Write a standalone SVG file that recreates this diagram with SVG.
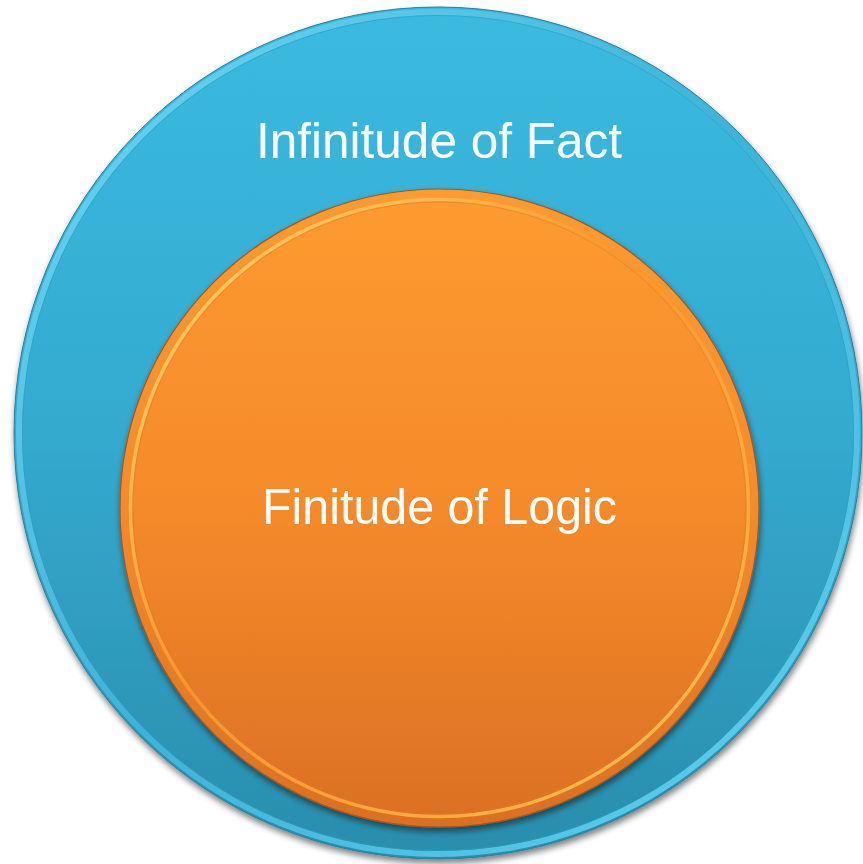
<svg xmlns="http://www.w3.org/2000/svg" width="863" height="864" viewBox="0 0 863 864">
  <defs>
    <linearGradient id="blueFill" x1="0" y1="0" x2="0" y2="1">
      <stop offset="0" stop-color="#3BBAE0"/>
      <stop offset="0.5" stop-color="#34AACF"/>
      <stop offset="1" stop-color="#2A8DAC"/>
    </linearGradient>
    <linearGradient id="blueRim" x1="0" y1="0" x2="1" y2="1">
      <stop offset="0" stop-color="#6FD8F5"/>
      <stop offset="0.5" stop-color="#3CB3D8"/>
      <stop offset="1" stop-color="#62D2F0"/>
    </linearGradient>
    <linearGradient id="orangeFill" x1="0" y1="0" x2="0" y2="1">
      <stop offset="0" stop-color="#FD9B30"/>
      <stop offset="0.5" stop-color="#F58A2B"/>
      <stop offset="1" stop-color="#DB7023"/>
    </linearGradient>
    <linearGradient id="orangeRim" x1="0" y1="0" x2="1" y2="1">
      <stop offset="0" stop-color="#FFE07A"/>
      <stop offset="0.45" stop-color="#F7962F"/>
      <stop offset="0.8" stop-color="#FFB347"/>
      <stop offset="1" stop-color="#FFD060"/>
    </linearGradient>
    <filter id="shadow" x="-10%" y="-10%" width="120%" height="125%">
      <feGaussianBlur in="SourceAlpha" stdDeviation="3"/>
      <feOffset dx="1" dy="4" result="b"/>
      <feComponentTransfer><feFuncA type="linear" slope="0.5"/></feComponentTransfer>
      <feMerge><feMergeNode/><feMergeNode in="SourceGraphic"/></feMerge>
    </filter>
    <style>
      .label { font-family: "Liberation Sans", Arial, sans-serif; font-size: 50px; fill: #FFFFFF; text-anchor: middle; }
    </style>
  </defs>
  <rect width="863" height="864" fill="#FFFFFF"/>
  <g id="outer">
    <ellipse cx="438" cy="433" rx="424" ry="426" fill="url(#blueFill)" stroke="#2A7F9A" stroke-width="1" filter="url(#shadow)"/>
    <ellipse cx="438" cy="433" rx="419" ry="421" fill="none" stroke="url(#blueRim)" stroke-width="6"/>
    <ellipse cx="438" cy="433" rx="415.5" ry="417.5" fill="none" stroke="#2F9CC0" stroke-width="1" stroke-opacity="0.6"/>
    <text class="label" x="439" y="158" textLength="366" lengthAdjust="spacingAndGlyphs">Infinitude of Fact</text>
  </g>
  <g id="inner">
    <ellipse cx="439.5" cy="508" rx="319.5" ry="319" fill="url(#orangeFill)" stroke="#A8561A" stroke-width="1.2" filter="url(#shadow)"/>
    <ellipse cx="439.5" cy="508" rx="309" ry="308.5" fill="none" stroke="url(#orangeRim)" stroke-width="3.5" stroke-opacity="0.95"/>
    <ellipse cx="439.5" cy="508" rx="306.5" ry="306" fill="none" stroke="#E07A22" stroke-width="1" stroke-opacity="0.5"/>
    <text class="label" x="439.5" y="524" textLength="355" lengthAdjust="spacingAndGlyphs">Finitude of Logic</text>
  </g>
  <g id="connectors"/>
</svg>
